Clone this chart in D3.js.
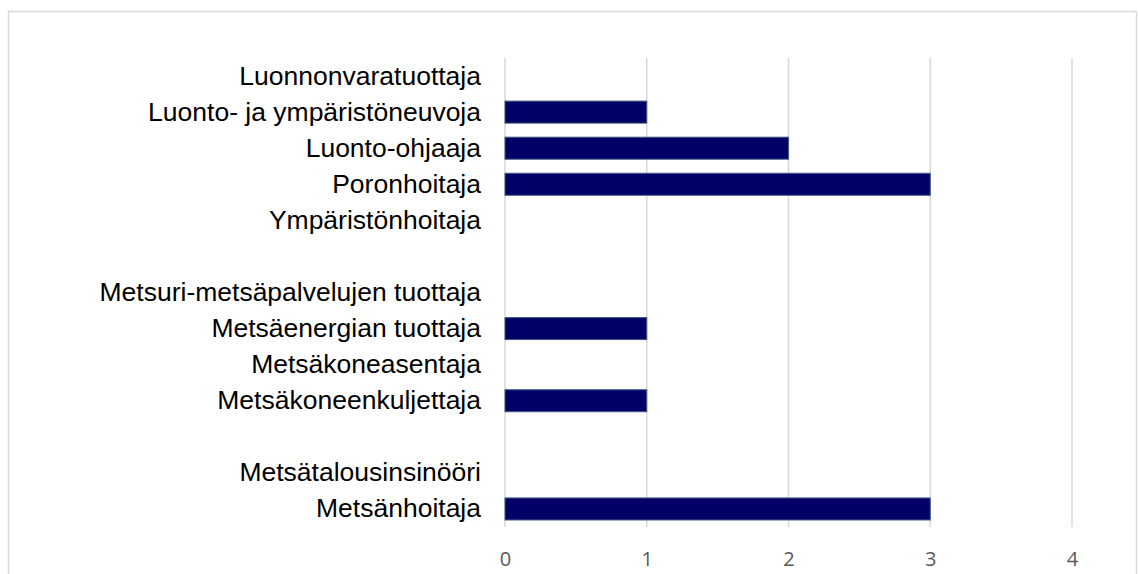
<!DOCTYPE html>
<html>
<head>
<meta charset="utf-8">
<script src="https://cdn.jsdelivr.net/npm/d3@7"></script>
<style>
  body { margin: 0; background: #fff; }
</style>
</head>
<body>
<div id="vis"></div>
<script>
// categories top to bottom, "" = empty spacer row
const categories = [
  'Luonnonvaratuottaja',
  'Luonto- ja ympäristöneuvoja',
  'Luonto-ohjaaja',
  'Poronhoitaja',
  'Ympäristönhoitaja',
  '',
  'Metsuri-metsäpalvelujen tuottaja',
  'Metsäenergian tuottaja',
  'Metsäkoneasentaja',
  'Metsäkoneenkuljettaja',
  '',
  'Metsätalousinsinööri',
  'Metsänhoitaja'
];
const values = [0, 1, 2, 3, 0, null, 0, 1, 0, 1, null, 0, 3];
const ticks = [0, 1, 2, 3, 4];

let W = 1138, H = 574;
let plot = { left: 505, right: 1072, top: 58, bottom: 527 };

let svg = d3.select('#vis')
  .append('svg')
    .attr('width', W)
    .attr('height', H);

// outer chart border
svg.append('rect')
  .attr('x', 8.5)
  .attr('y', 11.5)
  .attr('width', 1128)
  .attr('height', 600)
  .attr('fill', 'none')
  .attr('stroke', '#d9d9d9')
  .attr('stroke-width', 1.5);

let xScale = d3.scaleLinear()
  .domain([0, 4])
  .range([plot.left, plot.right]);

let yScale = d3.scaleBand()
  .domain(categories.map((d, i) => i))
  .range([plot.top, plot.bottom])
  .paddingInner(0.39)
  .paddingOuter(0.195);

// gridlines
svg.append('g')
  .selectAll('line')
  .data(ticks)
  .enter().append('line')
    .attr('x1', d => xScale(d))
    .attr('x2', d => xScale(d))
    .attr('y1', plot.top)
    .attr('y2', plot.bottom)
    .attr('stroke', '#d9d9d9')
    .attr('stroke-width', 1.5);

// x axis labels
let xAxis = svg.append('g')
  .attr('transform', `translate(0, ${plot.bottom})`)
  .call(d3.axisBottom(xScale).tickValues(ticks).tickFormat(d3.format('d')).tickSize(0).tickPadding(25));
xAxis.select('.domain').remove();
xAxis.selectAll('text')
  .style('font-family', '"Open Sans", sans-serif')
  .style('font-size', '20px')
  .attr('fill', '#595959');

// category labels
let yAxis = svg.append('g')
  .attr('transform', `translate(${plot.left}, 0)`)
  .call(d3.axisLeft(yScale).tickSize(0).tickPadding(24).tickFormat(i => categories[i]));
yAxis.select('.domain').remove();
yAxis.selectAll('text')
  .style('font-family', '"Liberation Sans", Arial, sans-serif')
  .style('font-size', '26.5px')
  .attr('fill', '#000');

// bars
svg.append('g')
  .selectAll('rect')
  .data(values.map((v, i) => ({ i: i, v: v })).filter(d => d.v))
  .enter().append('rect')
    .attr('x', xScale(0))
    .attr('y', d => yScale(d.i))
    .attr('width', d => xScale(d.v) - xScale(0))
    .attr('height', yScale.bandwidth())
    .attr('fill', '#000066')
    .attr('stroke', '#3d5a80')
    .attr('stroke-width', 1);
</script>
</body>
</html>
